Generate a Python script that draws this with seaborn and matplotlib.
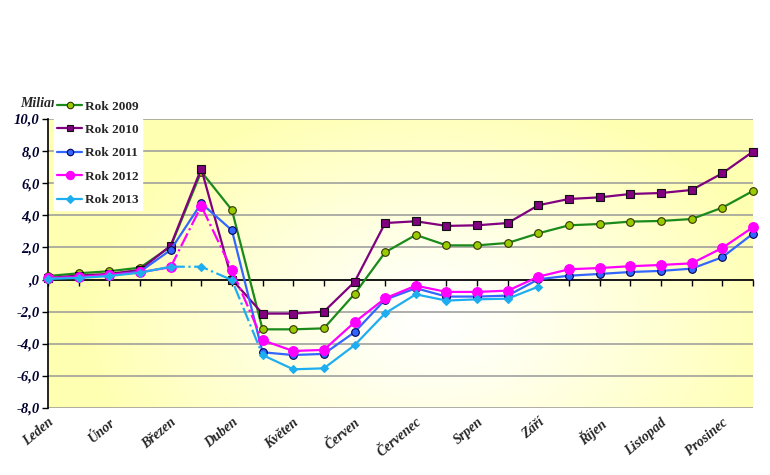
import numpy as np
import pandas as pd
import matplotlib
matplotlib.use("Agg")
import matplotlib.pyplot as plt
from matplotlib.lines import Line2D
import seaborn as sns

# data (billions CZK, 24 half-month points)
months = ["Leden", "Únor", "Březen", "Duben", "Květen", "Červen",
          "Červenec", "Srpen", "Září", "Říjen", "Listopad", "Prosinec"]
rok_2009 = [0.22, 0.39, 0.52, 0.74, 2.05, 6.72, 4.33, -3.10, -3.10, -3.04, -0.90, 1.70,
            2.78, 2.13, 2.13, 2.28, 2.88, 3.38, 3.46, 3.61, 3.65, 3.77, 4.48, 5.52]
rok_2010 = [0.10, 0.25, 0.35, 0.60, 2.11, 6.91, 0.00, -2.12, -2.12, -2.00, -0.15, 3.52,
            3.63, 3.34, 3.38, 3.52, 4.63, 5.02, 5.12, 5.33, 5.39, 5.58, 6.62, 7.97]
rok_2011 = [0.06, 0.14, 0.27, 0.49, 1.84, 4.75, 3.07, -4.53, -4.70, -4.63, -3.28, -1.25,
            -0.54, -1.06, -1.06, -1.00, 0.02, 0.24, 0.35, 0.47, 0.54, 0.68, 1.39, 2.86]
rok_2012 = [0.10, 0.15, 0.30, 0.45, 0.77, 4.58, 0.60, -3.78, -4.45, -4.38, -2.66, -1.17,
            -0.38, -0.77, -0.77, -0.69, 0.18, 0.64, 0.72, 0.83, 0.91, 1.01, 1.97, 3.26]
rok_2013 = [0.05, 0.10, 0.22, 0.43, 0.80, 0.80, -0.03, -4.70, -5.59, -5.53, -4.09, -2.10,
            -0.92, -1.31, -1.23, -1.19, -0.44]
ytick_vals = [10, 8, 6, 4, 2, 0, -2, -4, -6, -8]
ytick_labels = ["10,0", "8,0", "6,0", "4,0", "2,0", ",0", "-2,0", "-4,0", "-6,0", "-8,0"]

sns.set_style("white")
plt.rcParams['font.family'] = ['Liberation Serif', 'DejaVu Serif']

fig = plt.figure(figsize=(7.7, 4.75), dpi=100)
ax = fig.add_axes([48 / 770, 1 - 408 / 475, 705 / 770, 289 / 475])

# yellow -> white background gradient of the plot area
gx, gy = np.meshgrid(np.linspace(0, 1, 200), np.linspace(0, 1, 120))
t = np.clip(np.sqrt(((gx - 0.55) / 0.5) ** 2 + ((gy - 0.3) / 0.8) ** 2), 0, 1) ** 1.2
yellow = np.array([1.0, 1.0, 0.70])
img = (1 - t[..., None]) * np.ones(3) + t[..., None] * yellow
ax.imshow(img, extent=[0, 1, 0, 1], transform=ax.transAxes, origin="lower",
          aspect="auto", zorder=0)

series = [
    ("Rok 2009", rok_2009, dict(color="#1A8A1A", marker="o", mfc="#99CC00", mec="#333300", ms=5.5), None),
    ("Rok 2010", rok_2010, dict(color="#800080", marker="s", mfc="#800080", mec="#111111", ms=5.5), None),
    ("Rok 2011", rok_2011, dict(color="#3366FF", marker="o", mfc="#3366FF", mec="#000055", ms=5.5), None),
    ("Rok 2012", rok_2012, dict(color="#FF00FF", marker="o", mfc="#FF00FF", mec="#FF00FF", ms=7), (4, 7)),
    ("Rok 2013", rok_2013, dict(color="#1EAEF0", marker="D", mfc="#1EAEF0", mec="#1EAEF0", ms=4.5), (4, 7)),
]

handles = []
for i, (name, vals, st, dash) in enumerate(series):
    x = np.arange(len(vals))
    y = np.array(vals)
    z = 3 + i
    if dash is None:
        parts = [(0, len(vals) - 1, "-")]
    else:
        a, b = dash
        parts = [(0, a, "-"), (a, b, "-."), (b, len(vals) - 1, "-")]
    for a, b, ls in parts:
        sns.lineplot(x=x[a:b + 1], y=y[a:b + 1], ax=ax, color=st["color"], linewidth=1.6,
                     linestyle=ls, zorder=z, clip_on=False, legend=False)
    ax.plot(x, y, linestyle="none", marker=st["marker"], markerfacecolor=st["mfc"],
            markeredgecolor=st["mec"], markersize=st["ms"], markeredgewidth=0.8,
            zorder=z + 0.5, clip_on=False)
    handles.append(Line2D([], [], color=st["color"], linewidth=1.6, marker=st["marker"],
                          markerfacecolor=st["mfc"], markeredgecolor=st["mec"],
                          markersize=st["ms"] * 0.85, markeredgewidth=0.8, label=name))

ax.set_xlim(0, 23)
ax.set_ylim(-8, 10)

# horizontal grid lines
ax.set_yticks(ytick_vals)
ax.set_yticklabels(ytick_labels, fontsize=10.5, fontweight="bold", fontstyle="italic",
                   color="#000030")
ax.yaxis.grid(True, color="#999999", linewidth=1.1)
ax.set_axisbelow(True)
ax.tick_params(axis="y", direction="out", length=4, width=1, color="black", pad=2, left=True)

# x axis crossing at zero, labels low
ax.spines["bottom"].set_position(("data", 0))
ax.spines["bottom"].set_color("black")
ax.spines["bottom"].set_linewidth(1.2)
ax.spines["bottom"].set_zorder(2)
ax.spines["left"].set_color("black")
ax.spines["left"].set_linewidth(1.2)
ax.spines["top"].set_visible(False)
ax.spines["right"].set_visible(False)
ax.set_xticks(np.arange(24))
ax.set_xticklabels([months[k // 2] if k % 2 == 0 else "" for k in range(24)],
                   rotation=40, ha="right", va="top", rotation_mode="anchor",
                   fontsize=10, fontweight="bold", fontstyle="italic")
ax.tick_params(axis="x", direction="out", length=4, width=1, color="black", pad=94,
               bottom=True)
ax.set_xlabel("")
ax.set_ylabel("")

ax.text(20 / 770, 1 - 104 / 475, "Miliardy Kč", transform=fig.transFigure, fontsize=10,
        fontweight="bold", fontstyle="italic", va="center", ha="left", zorder=1)

leg = ax.legend(handles=handles, loc="upper left",
                bbox_to_anchor=(54 / 770, 1 - 97 / 475), bbox_transform=fig.transFigure,
                frameon=True, fancybox=False, framealpha=1, edgecolor="white",
                facecolor="white", prop=dict(family="Liberation Serif", weight="bold", size=9.5),
                handlelength=1.9, handletextpad=0.2, labelspacing=0.85, borderpad=0.25,
                borderaxespad=0)
leg.set_zorder(20)

fig.savefig("out.png", dpi=100)
